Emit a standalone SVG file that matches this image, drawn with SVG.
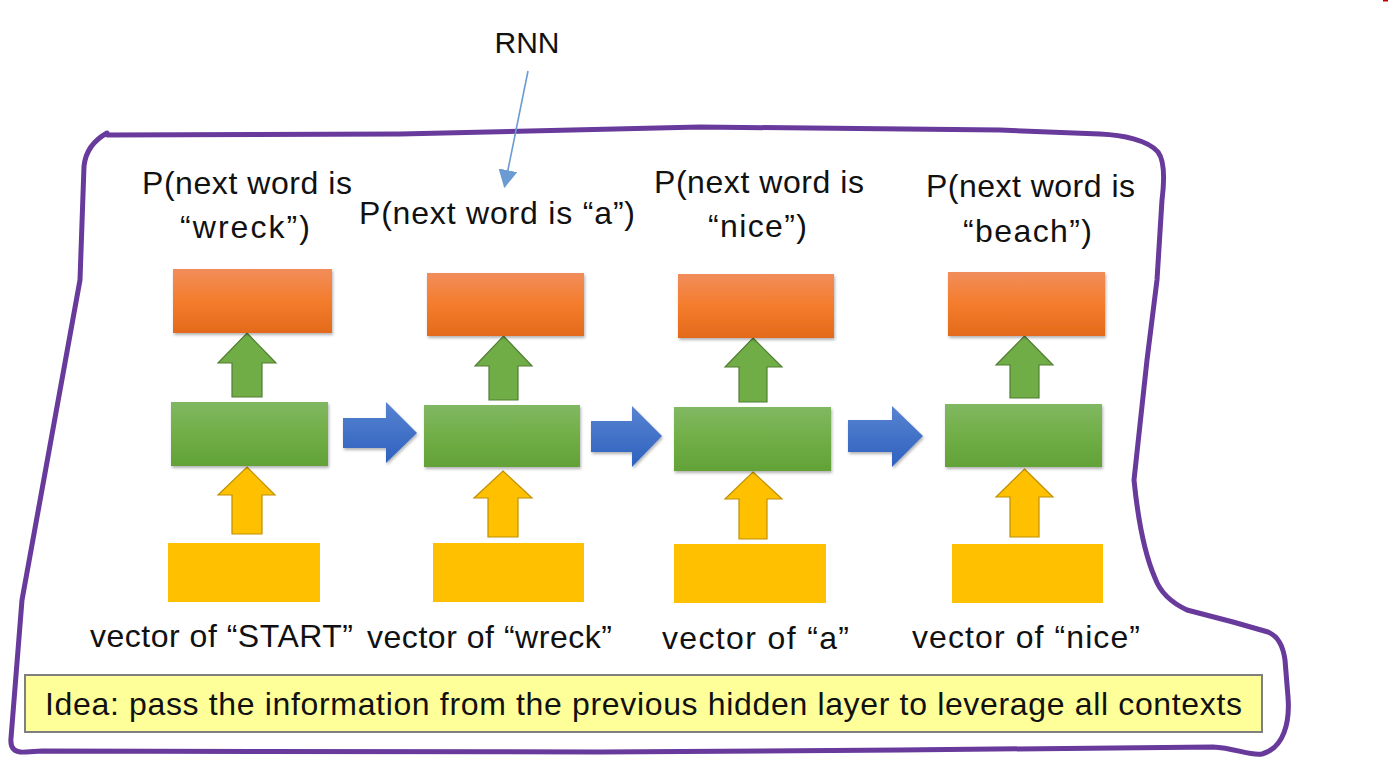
<svg xmlns="http://www.w3.org/2000/svg" width="1388" height="782" viewBox="0 0 1388 782">
<style>
text{font-family:"Liberation Sans",Arial,sans-serif;fill:#111;}
.lbl{font-size:32px;text-anchor:middle;}
.rnn{font-size:30px;text-anchor:middle;}
.idea{font-size:32px;}
.orange{fill:url(#gOrange);filter:url(#sh);}
.green{fill:url(#gGreen);filter:url(#sh);}
.yellow{fill:#FFC000;}
.garrow{fill:#70AD47;stroke:#507E32;stroke-width:1.2;}
.yarrow{fill:#FFC000;stroke:#BF9000;stroke-width:1.2;}
.barrow{fill:url(#gBlue);filter:url(#sh);}
</style>
<defs>
<linearGradient id="gOrange" x1="0" y1="0" x2="0" y2="1">
<stop offset="0" stop-color="#F18D5B"/><stop offset="0.5" stop-color="#F47C2C"/><stop offset="1" stop-color="#E36A1A"/>
</linearGradient>
<linearGradient id="gGreen" x1="0" y1="0" x2="0" y2="1">
<stop offset="0" stop-color="#80B862"/><stop offset="0.5" stop-color="#71AE47"/><stop offset="1" stop-color="#62A237"/>
</linearGradient>
<linearGradient id="gBlue" x1="0" y1="0" x2="0" y2="1">
<stop offset="0" stop-color="#5883D1"/><stop offset="1" stop-color="#2E62BE"/>
</linearGradient>
<filter id="sh" x="-10%" y="-10%" width="120%" height="130%">
<feDropShadow dx="1" dy="2" stdDeviation="1.5" flood-color="#000" flood-opacity="0.3"/>
</filter>
<marker id="ah" markerWidth="18" markerHeight="19" refX="17" refY="9.5" orient="auto" markerUnits="userSpaceOnUse" viewBox="0 0 18 19">
<path d="M0,0 L18,9.5 L0,19 Z" fill="#6A9BD2"/>
</marker>
</defs>
<rect width="1388" height="782" fill="#fff"/>
<rect x="1383" y="0" width="5" height="1.5" fill="#C00000"/>

<path id="border" d="M107,133 C98,138 86,148 84,166 L80,280 L22,600 L11,738 C10,748 14,753 26,752 L42,751 L600,752 L900,750 L1213,747 C1235,748 1250,756 1262,754 C1284,748 1290,722 1288,697 L1285,660 C1283,645 1278,636 1268,632 L1233,622 L1187,610 C1170,602 1160,592 1155,578 C1145,555 1138,520 1134,480 L1147,360 L1157,280 L1162,200 C1165,176 1164,160 1158,152 C1148,140 1122,135 1100,134 L1000,130 L700,127 L400,134 L107,135" fill="none" stroke="#673A9B" stroke-width="5" stroke-linejoin="round" stroke-linecap="round"/>

<g id="rnn-label"><text class="rnn" x="527" y="53">RNN</text></g>

<g id="connectors">
<line x1="528" y1="71" x2="504.5" y2="187" stroke="#6A9BD2" stroke-width="1.6" marker-end="url(#ah)"/>
<polygon class="garrow" points="247,333 276,363 262,363 262,397 232,397 232,363 218,363"/>
<polygon class="garrow" points="503.5,336 532,366 518,366 518,400 489,400 489,366 475,366"/>
<polygon class="garrow" points="753,338 782,367 767,367 767,402 739,402 739,367 725,367"/>
<polygon class="garrow" points="1024.5,336 1053,365 1039,365 1039,398 1010,398 1010,365 996,365"/>
<polygon class="yarrow" points="247,467 275,495 262,495 262,534 232,534 232,495 218,495"/>
<polygon class="yarrow" points="503,471 532,498 518,498 518,537 488,537 488,498 474,498"/>
<polygon class="yarrow" points="753,472 782,499 767,499 767,539 739,539 739,499 725,499"/>
<polygon class="yarrow" points="1024.5,469 1053,497 1039,497 1039,537 1010,537 1010,497 996,497"/>
<polygon class="barrow" points="343,418 386,418 386,402 417,433 386,463 386,448 343,448"/>
<polygon class="barrow" points="591,421 632,421 632,406 662,436 632,467 632,452 591,452"/>
<polygon class="barrow" points="848,420 892,420 892,406 923,436 892,467 892,452 848,452"/>
</g>

<g id="step1">
<text class="lbl" x="247" y="194" textLength="210">P(next word is</text>
<text class="lbl" x="245" y="238" textLength="130">“wreck”)</text>
<rect class="orange" x="173" y="269" width="159" height="64"/>
<rect class="green" x="171" y="402" width="157" height="64"/>
<rect class="yellow" x="168" y="543" width="152" height="59"/>
<text class="lbl" x="221.5" y="647" textLength="263">vector of “START”</text>
</g>
<g id="step2">
<text class="lbl" x="497" y="224" textLength="276">P(next word is “a”)</text>
<rect class="orange" x="427" y="273" width="157" height="63"/>
<rect class="green" x="424" y="405" width="156" height="62"/>
<rect class="yellow" x="433" y="543" width="151" height="59"/>
<text class="lbl" x="489.5" y="648" textLength="245">vector of “wreck”</text>
</g>
<g id="step3">
<text class="lbl" x="759" y="193" textLength="210">P(next word is</text>
<text class="lbl" x="757.5" y="237" textLength="99">“nice”)</text>
<rect class="orange" x="678" y="274" width="156" height="64"/>
<rect class="green" x="674" y="407" width="157" height="64"/>
<rect class="yellow" x="674" y="544" width="152" height="59"/>
<text class="lbl" x="755.5" y="649" textLength="187">vector of “a”</text>
</g>
<g id="step4">
<text class="lbl" x="1030.5" y="197" textLength="209">P(next word is</text>
<text class="lbl" x="1027.5" y="242" textLength="129">“beach”)</text>
<rect class="orange" x="948" y="272" width="157" height="64"/>
<rect class="green" x="945" y="404" width="157" height="63"/>
<rect class="yellow" x="952" y="544" width="151" height="59"/>
<text class="lbl" x="1026" y="648" textLength="228">vector of “nice”</text>
</g>
<g id="idea">
<rect x="25" y="675" width="1237" height="57" fill="#FFFF99" stroke="#7F7F7F" stroke-width="2"/>
<text class="idea" x="45" y="715" textLength="1197">Idea: pass the information from the previous hidden layer to leverage all contexts</text>
</g>
</svg>
